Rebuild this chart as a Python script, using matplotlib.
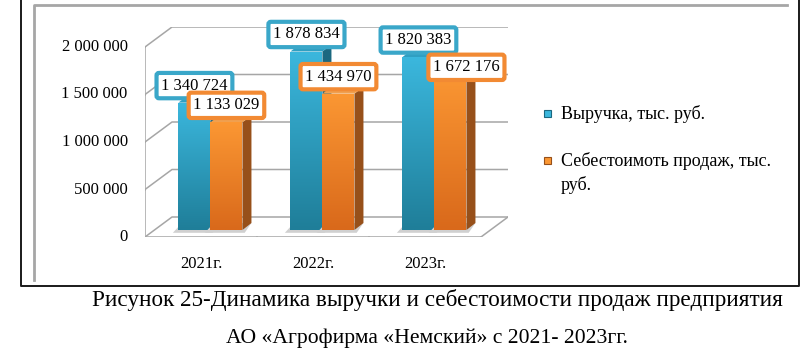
import numpy as np
import matplotlib
matplotlib.use('Agg')
import matplotlib.pyplot as plt
from matplotlib.colors import LinearSegmentedColormap
from matplotlib.patches import Polygon, Rectangle

plt.rcParams['font.family'] = ['Liberation Serif', 'DejaVu Serif']

# data
years = ['2021г.', '2022г.', '2023г.']
revenue = [1340724, 1878834, 1820383]
cost = [1133029, 1434970, 1672176]
yticks = [0, 500000, 1000000, 1500000, 2000000]
ytick_labels = ['0', '500 000', '1 000 000', '1 500 000', '2 000 000']
series_names = ['Выручка, тыс. руб.', 'Себестоимоть продаж, тыс.\nруб.']
caption = ['Рисунок 25-Динамика выручки и себестоимости продаж предприятия',
           'АО «Агрофирма «Немский» с 2021- 2023гг.']

W, H = 800, 361
PX_X = 112.0           # pixels per category
PX_Y = 95.0 / 1e6      # pixels per value unit
DX = 27 / PX_X         # depth of the 3d box (x units)
DY = 20 / PX_Y         # depth of the 3d box (value units)
f = 0.35               # where the bars stand in the depth
bw = 32 / PX_X         # bar width
bdx, bdy = 9 / PX_X, 7 / PX_Y

blue = dict(top='#3bb7dd', bottom='#1f7e99', side='#1b6880', lid='#2f9fc2', edge='#3aa7c9')
orange = dict(top='#fb9733', bottom='#d9691b', side='#97501a', lid='#f0a050', edge='#f28a33')


def fmt(v):
    return f'{v:,}'.replace(',', ' ')


fig = plt.figure(figsize=(W / 100, H / 100), dpi=100)
fig.patch.set_facecolor('white')

# page frame and caption (pixel coordinates)
page = fig.add_axes([0, 0, 1, 1])
page.set_xlim(0, W)
page.set_ylim(H, 0)
page.axis('off')
page.plot([20.5, 20.5, 799, 799], [0, 286, 286, 0], color='#1a1a1a', lw=1.4)
page.plot([34, 34, 787], [280, 4.5, 4.5], color='#a6a6a6', lw=2)
page.text(437, 300, caption[0], ha='center', va='center', fontsize=16.7)
page.text(427, 338, caption[1], ha='center', va='center', fontsize=15.6)

# legend
for k, (c, name, yc) in enumerate(zip([blue, orange], series_names, [114, 173])):
    my = [114, 161][k]
    page.add_patch(Rectangle((544, my - 4), 7, 7, facecolor=c['top'], edgecolor=c['side'], lw=0.8))
    page.text(561, yc, name, ha='left', va='center', fontsize=13, linespacing=1.45)

# chart area
ax = fig.add_axes([145 / W, 1 - 237 / H, (508 - 145) / W, (237 - 27) / H])
ax.axis('off')

n = len(years)
grid_c = '#a6a6a6'
# back wall gridlines
for v in yticks:
    ax.plot([0, DX, n + DX], [v, v + DY, v + DY], color=grid_c, lw=1.1, zorder=1)
    ax.plot([-4 / PX_X, 0], [v, v], color=grid_c, lw=1.1, zorder=1)
    ax.annotate(ytick_labels[yticks.index(v)], xy=(0, v), xytext=(-12.5, 0),
                textcoords='offset points', ha='right', va='center', fontsize=12)
# floor and front axis
ax.plot([0, n, n + DX], [0, 0, DY], color=grid_c, lw=1.1, zorder=1)
ax.plot([0, 0], [0, yticks[-1]], color=grid_c, lw=1.1, zorder=1)
for i in range(n + 1):
    ax.plot([i, i], [0, -4 / PX_Y], color=grid_c, lw=1.1, zorder=1)
for i, yr in enumerate(years):
    ax.annotate(yr, xy=(i + 0.5, 0), xytext=(0, -19.5), textcoords='offset points',
                ha='center', va='center', fontsize=12)

base = f * DY
grad = np.linspace(1, 0, 100).reshape(-1, 1)
lefts_blue = [i + 0.5 - bw + f * DX for i in range(n)]
lefts_orange = [i + 0.5 + f * DX for i in range(n)]

z = 2
for s, (vals, lefts, c) in enumerate([(revenue, lefts_blue, blue), (cost, lefts_orange, orange)]):
    cmap = LinearSegmentedColormap.from_list('g', [c['bottom'], c['top']])
    bars = ax.bar(lefts, vals, width=bw, bottom=base, align='edge', color=c['top'],
                  lw=0, zorder=z + 2)
    for xl, v, p in zip(lefts, vals, bars):
        xr = xl + bw
        top = base + v
        # soft shadow on the floor
        ax.add_patch(Polygon([(xl - 0.05, base - 0.4 * bdy), (xr + 0.02, base - 0.4 * bdy),
                              (xr + bdx, base + bdy), (xl + bdx - 0.05, base + bdy)],
                             closed=True, facecolor='#d0d0d0', edgecolor='none', zorder=z))
        ax.add_patch(Polygon([(xr, base), (xr + bdx, base + bdy), (xr + bdx, top + bdy), (xr, top)],
                             closed=True, facecolor=c['side'], edgecolor='none', zorder=z + 1))
        ax.add_patch(Polygon([(xl, top), (xl + bdx, top + bdy), (xr + bdx, top + bdy), (xr, top)],
                             closed=True, facecolor=c['lid'], edgecolor='none', zorder=z + 1))
        im = ax.imshow(grad, extent=[xl, xr, base, top], aspect='auto', cmap=cmap,
                       zorder=z + 3, interpolation='bilinear')
        im.set_clip_path(p)
    z += 4

# data labels (Excel nudged the last one aside)
shifts = {(1, 2): (11.5, -3)}
for s, (vals, lefts, c) in enumerate([(revenue, lefts_blue, blue), (cost, lefts_orange, orange)]):
    for i, (xl, v) in enumerate(zip(lefts, vals)):
        ax.annotate(fmt(v), xy=(xl + bw / 2, base + v), xytext=shifts.get((s, i), (0, 6.5)),
                    textcoords='offset points', ha='center', va='bottom', fontsize=12,
                    bbox=dict(boxstyle='round,pad=0.28,rounding_size=0.15', fc='white',
                              ec=c['edge'], lw=3), zorder=20 + s)

ax.set_xlim(0, n + DX)
ax.set_ylim(0, yticks[-1] + DY)

fig.savefig('out.png', dpi=100, facecolor='white')
